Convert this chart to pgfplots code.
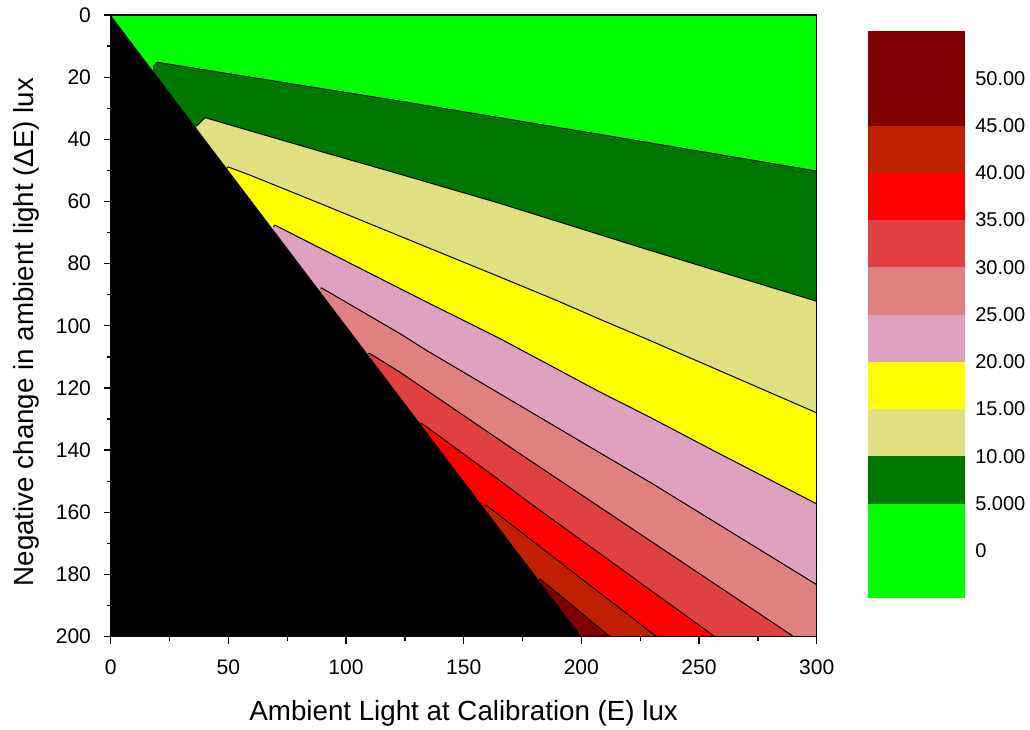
\documentclass[border=0pt]{standalone}
\usepackage{pgfplots}
\pgfplotsset{compat=1.18}
\usepackage{fontspec}
\setmainfont{Liberation Sans}

% contour level colours (0, 5, 10, ..., 45)
\definecolor{lev0}{RGB}{0,255,0}
\definecolor{lev5}{RGB}{0,120,0}
\definecolor{lev10}{RGB}{224,224,128}
\definecolor{lev15}{RGB}{255,255,0}
\definecolor{lev20}{RGB}{224,160,192}
\definecolor{lev25}{RGB}{224,128,128}
\definecolor{lev30}{RGB}{224,64,64}
\definecolor{lev35}{RGB}{255,0,0}
\definecolor{lev40}{RGB}{192,32,0}
\definecolor{lev45}{RGB}{128,0,0}

\newcommand{\ticksize}{\fontsize{15.8}{18}\selectfont}
\newcommand{\barsize}{\fontsize{15}{18}\selectfont}
\newcommand{\labsize}{\fontsize{20.8}{25}\selectfont}

\begin{document}
\begin{tikzpicture}
\path[use as bounding box] (-83.0pt,-69.4pt) rectangle (689.5pt,477.4pt);

% ---- contour map ----
\begin{axis}[
  at={(0pt,0pt)}, anchor=south west,
  scale only axis, width=529.5pt, height=466.1pt,
  xmin=0, xmax=300, ymin=0, ymax=200, y dir=reverse,
  xtick={0,50,...,300}, ytick={0,20,...,200},
  minor x tick num=1, minor y tick num=1,
  tick align=outside, xtick pos=bottom, ytick pos=left,
  major tick length=5.25pt, minor tick length=3pt,
  every tick/.style={black, line width=1pt},
  axis line style={line width=1.1pt},
  axis on top,
  /pgf/number format/assume math mode=true,
  tick label style={font=\ticksize},
  xticklabel style={yshift=-9pt},
  yticklabel style={xshift=-6pt},
  xlabel={Ambient Light at Calibration (E) lux},
  ylabel={Negative change in ambient light (ΔE) lux},
  label style={font=\labsize},
  xlabel style={at={(axis description cs:0.5,0)}, anchor=base, yshift=-63pt},
  ylabel style={at={(axis description cs:-0.1095,0.49)}, anchor=base},
]
% background level (< 5)
\addplot[fill=lev0, draw=none] coordinates {(0,0) (300,0) (300,200) (0,200)};
% 5 .. 10
\addplot[fill=lev5, draw=none] coordinates {(18.1,16.6) (19.8,15.2) (122.9,27.7) (207.9,38.4) (300,50.2) (300,200) (0,200)};
% 10 .. 15
\addplot[fill=lev10, draw=none] coordinates {(36.5,35.7) (40.1,33.0) (87.5,43.5) (122.9,51.2) (165.4,60.6) (229.1,75.7) (300,92.1) (300,200) (0,200)};
% 15 .. 20
\addplot[fill=lev15, draw=none] coordinates {(49.3,49.3) (50.0,48.9) (59.2,51.5) (88.9,60.6) (165.4,84.3) (189.4,91.8) (207.9,97.9) (229.1,104.7) (300,128.0) (300,200) (0,200)};
% 20 .. 25
\addplot[fill=lev20, draw=none] coordinates {(69.1,68.2) (69.8,67.6) (132.8,91.8) (165.4,104.1) (207.9,121.3) (229.1,129.4) (256.0,140.1) (300,157.3) (300,200) (0,200)};
% 25 .. 30
\addplot[fill=lev25, draw=none] coordinates {(89.2,88.0) (89.6,87.8) (122.9,102.5) (134.2,107.9) (205.7,139.9) (229.1,150.3) (300,183.3) (300,200) (0,200)};
% 30 .. 35
\addplot[fill=lev30, draw=none] coordinates {(109.4,109.0) (109.9,108.8) (122.9,114.9) (171.8,140.1) (203.6,156.2) (290.2,200) (0,200)};
% 35 .. 40
\addplot[fill=lev35, draw=none] coordinates {(131.5,131.5) (132.1,131.3) (165.4,149.8) (176.6,156.2) (256.7,200) (0,200)};
% 40 .. 45
\addplot[fill=lev40, draw=none] coordinates {(159.0,158.1) (159.7,157.8) (207.9,186.0) (231.9,200) (0,200)};
% > 45
\addplot[fill=lev45, draw=none] coordinates {(182.0,182.0) (182.4,181.4) (212.1,200) (0,200)};
% undefined region (Delta E > E)
\addplot[fill=black, draw=none] coordinates {(0,0) (200,200) (0,200)};

% contour lines
\pgfplotsset{cline/.style={black, line width=0.75pt}}
\addplot[cline] coordinates {(18.1,16.6) (19.8,15.2) (122.9,27.7) (207.9,38.4) (300,50.2)};
\addplot[cline] coordinates {(36.5,35.7) (40.1,33.0) (87.5,43.5) (122.9,51.2) (165.4,60.6) (229.1,75.7) (300,92.1)};
\addplot[cline] coordinates {(49.3,49.3) (50.0,48.9) (59.2,51.5) (88.9,60.6) (165.4,84.3) (189.4,91.8) (207.9,97.9) (229.1,104.7) (300,128.0)};
\addplot[cline] coordinates {(69.1,68.2) (69.8,67.6) (132.8,91.8) (165.4,104.1) (207.9,121.3) (229.1,129.4) (256.0,140.1) (300,157.3)};
\addplot[cline] coordinates {(89.2,88.0) (89.6,87.8) (122.9,102.5) (134.2,107.9) (205.7,139.9) (229.1,150.3) (300,183.3)};
\addplot[cline] coordinates {(109.4,109.0) (109.9,108.8) (122.9,114.9) (171.8,140.1) (203.6,156.2) (290.2,200)};
\addplot[cline] coordinates {(131.5,131.5) (132.1,131.3) (165.4,149.8) (176.6,156.2) (256.7,200)};
\addplot[cline] coordinates {(159.0,158.1) (159.7,157.8) (207.9,186.0) (231.9,200)};
\addplot[cline] coordinates {(182.0,182.0) (182.4,181.4) (212.1,200)};
\end{axis}

% ---- colour scale ----
\begin{axis}[
  at={(568.0pt,28.9pt)}, anchor=south west,
  scale only axis, width=72.75pt, height=425.25pt,
  xmin=0, xmax=1, ymin=-5, ymax=55,
  axis line style={draw=none},
  xtick=\empty, ytick={0,5,...,50},
  yticklabels={0,5.000,10.00,15.00,20.00,25.00,30.00,35.00,40.00,45.00,50.00},
  yticklabel pos=right, major tick length=0pt,
  yticklabel style={font=\barsize, anchor=west, inner sep=0pt, xshift=7.5pt},
]
\addplot[fill=lev0,  draw=none] coordinates {(0,-5) (1,-5) (1,5) (0,5)};
\addplot[fill=lev5,  draw=none] coordinates {(0,5) (1,5) (1,10) (0,10)};
\addplot[fill=lev10, draw=none] coordinates {(0,10) (1,10) (1,15) (0,15)};
\addplot[fill=lev15, draw=none] coordinates {(0,15) (1,15) (1,20) (0,20)};
\addplot[fill=lev20, draw=none] coordinates {(0,20) (1,20) (1,25) (0,25)};
\addplot[fill=lev25, draw=none] coordinates {(0,25) (1,25) (1,30) (0,30)};
\addplot[fill=lev30, draw=none] coordinates {(0,30) (1,30) (1,35) (0,35)};
\addplot[fill=lev35, draw=none] coordinates {(0,35) (1,35) (1,40) (0,40)};
\addplot[fill=lev40, draw=none] coordinates {(0,40) (1,40) (1,45) (0,45)};
\addplot[fill=lev45, draw=none] coordinates {(0,45) (1,45) (1,55) (0,55)};
\end{axis}
\end{tikzpicture}
\end{document}
